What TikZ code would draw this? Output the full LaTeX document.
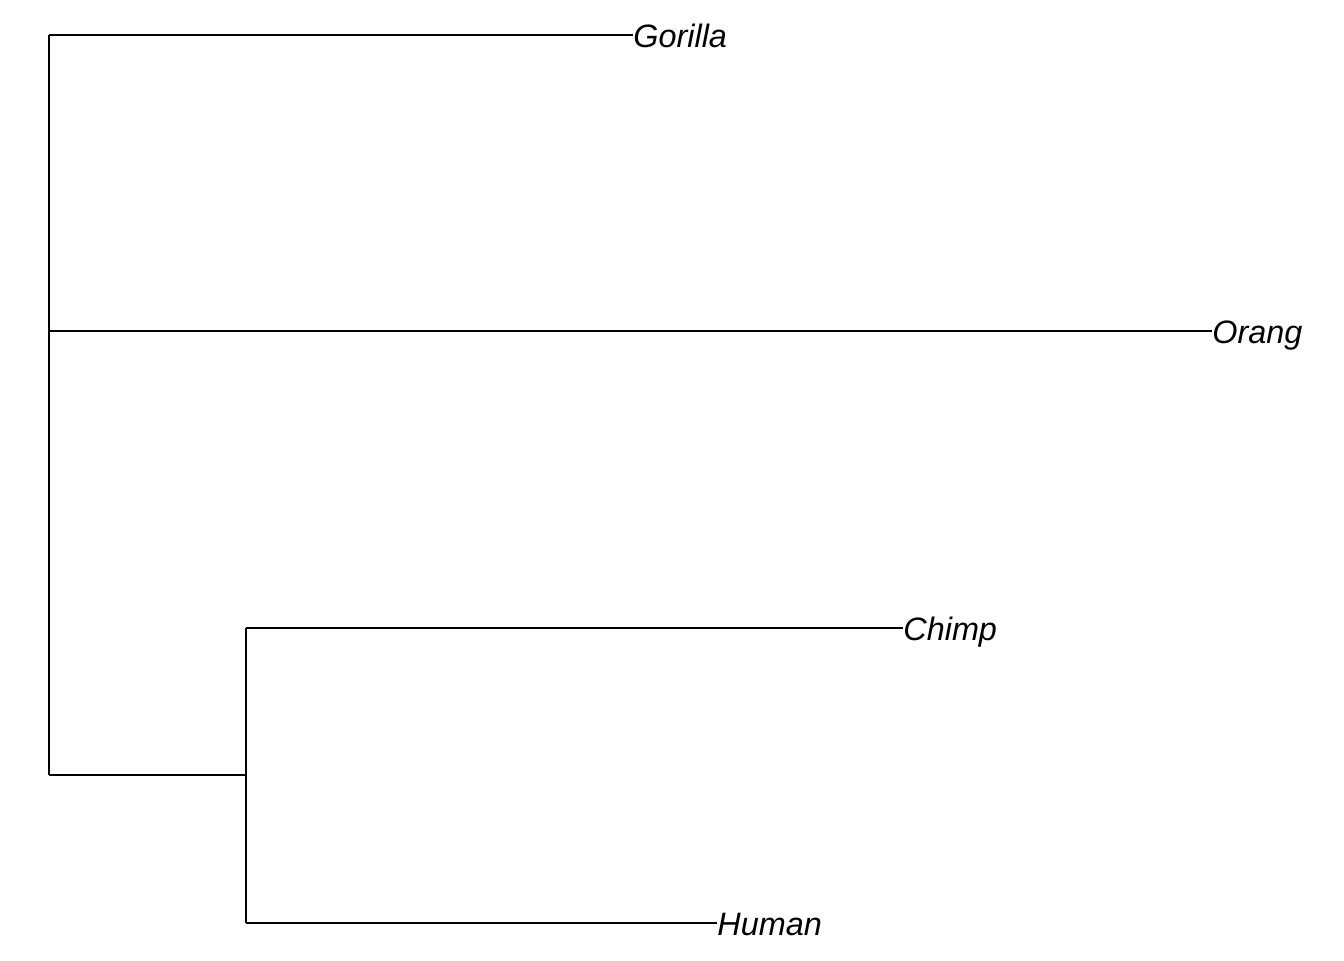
\documentclass[tikz,border=0pt]{standalone}
\usepackage{fontspec}
\setmainfont{Liberation Sans}

\begin{document}
\begin{tikzpicture}[x=0.5pt,y=-0.5pt,
    branch/.style={line width=1pt},
    taxon/.style={anchor=base west,inner sep=0pt,yshift=-6.3pt,font=\fontsize{16.2}{19}\selectfont\itshape}]
  \useasboundingbox (0,0) rectangle (1344,960);
  % internal nodes
  \coordinate (root) at (49,331);
  \coordinate (rtop) at (49,35);
  \coordinate (rbot) at (49,775);
  \coordinate (ch) at (246,775);
  \coordinate (chtop) at (246,628);
  \coordinate (chbot) at (246,923);
  % tips
  \coordinate (gor) at (633,35);
  \coordinate (ora) at (1212,331);
  \coordinate (chi) at (903,628);
  \coordinate (hum) at (717,923);
  \draw[branch] (rtop) -- (rbot);
  \draw[branch] (chtop) -- (chbot);
  \draw[branch] (rtop) -- (gor);
  \draw[branch] (root) -- (ora);
  \draw[branch] (rbot) -- (ch);
  \draw[branch] (chtop) -- (chi);
  \draw[branch] (chbot) -- (hum);
  \foreach \tip/\lab in {gor/Gorilla,ora/Orang,chi/Chimp,hum/Human}
    \node[taxon] (\tip-lab) at (\tip) {\lab};
\end{tikzpicture}
\end{document}
